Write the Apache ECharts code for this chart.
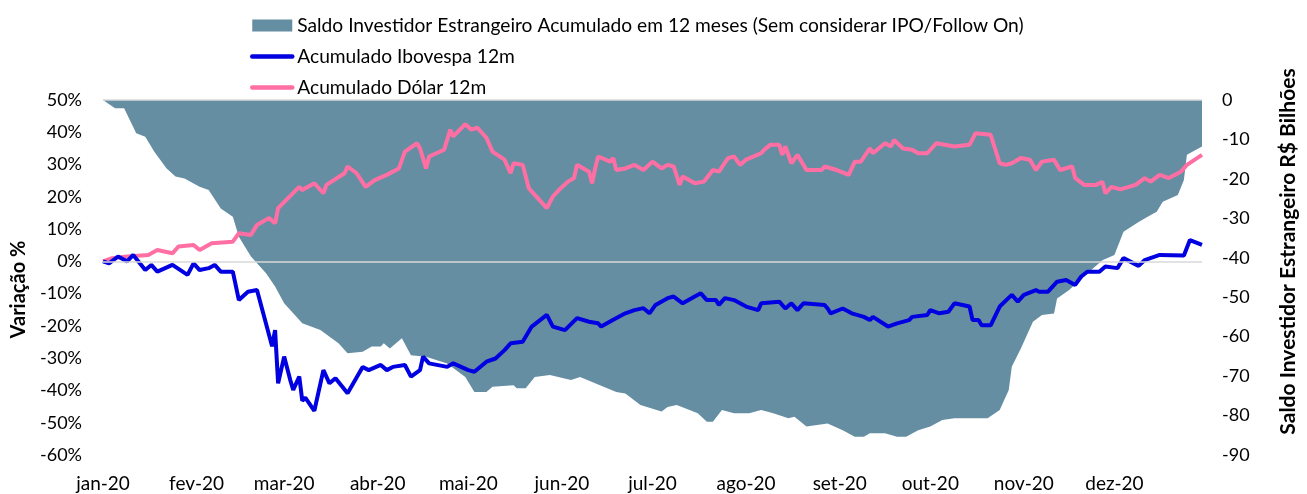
<!DOCTYPE html>
<html>
<head>
<meta charset="utf-8">
<script src="https://cdn.jsdelivr.net/npm/echarts@6/dist/echarts.min.js"></script>
<style>
  html, body { margin: 0; padding: 0; background: #fff; }
  #chart { width: 1307px; height: 494px; }
</style>
</head>
<body>
<div id="chart"></div>
<script>
// eixo x: dias corridos de 2020 (0 = 1 jan)
const mesInicio = [0, 31, 60, 91, 121, 152, 182, 213, 244, 274, 305, 335];
const mesRotulos = ['jan-20', 'fev-20', 'mar-20', 'abr-20', 'mai-20', 'jun-20',
  'jul-20', 'ago-20', 'set-20', 'out-20', 'nov-20', 'dez-20'];

// Saldo investidor estrangeiro acumulado 12m (R$ bilhões, eixo direito)
const saldoDias = [0, 4, 7, 11, 14, 17, 21, 24, 27, 32, 35, 39, 43, 45, 49, 54, 57, 60, 66, 72,
  78, 81, 86, 89, 92, 93, 95, 99, 102, 107, 114, 120, 123, 127, 129, 136, 137, 140, 143, 148,
  155, 158, 163, 170, 173, 178, 185, 187, 190, 193, 197, 200, 202, 205, 209, 214, 218, 222, 227, 229,
  233, 240, 245, 249, 252, 254, 259, 263, 266, 270, 274, 278, 282, 287, 293, 297, 300, 301, 304, 308,
  311, 315, 316, 320, 326, 331, 335, 338, 343, 346, 349, 351, 356, 358, 359, 364];
const saldoValores = [0, -2.1, -2.1, -8.4, -9.3, -13.1, -17.3, -19.4, -19.9, -22, -22.8, -27.5, -29.6, -34.7, -39.7, -43.9, -47.3, -51.5, -56.6, -58.3,
  -61.7, -64.2, -63.8, -62.5, -62.5, -61.7, -63, -60.4, -64.7, -65.1, -66.8, -70.2, -74, -74, -72.7, -72.3, -73.1, -73.1, -70.2, -69.7,
  -71, -70.2, -71.8, -74, -74.4, -77.3, -79, -77.8, -77.3, -78.2, -79.4, -81.6, -81.6, -78.6, -79.4, -79.4, -78.6, -79.4, -80.7, -80.3,
  -82.8, -82, -83.7, -85.4, -85.4, -84.5, -84.5, -85.4, -85.4, -83.7, -82.8, -81.1, -80.7, -80.7, -80.7, -78.6, -73.5, -67.6, -63, -56.2,
  -54.5, -54.1, -50.3, -48.2, -44, -40.6, -39.3, -33.4, -30.9, -29.6, -28.3, -25.8, -24.1, -20.3, -13.9, -11.8];

// Acumulado Ibovespa 12m (%)
const iboDias = [0, 2, 5, 8, 10, 14, 16, 18, 23, 28, 30, 32, 35, 37, 39, 43, 45, 48, 51, 56,
  57, 58, 60, 62, 63, 65, 66, 67, 70, 73, 75, 77, 81, 86, 88, 92, 94, 96, 100, 102,
  105, 106, 108, 114, 116, 121, 123, 127, 130, 133, 135, 139, 142, 147, 149, 153, 157, 161, 164, 165,
  169, 173, 176, 179, 181, 183, 187, 189, 192, 196, 198, 200, 203, 204, 206, 209, 213, 217, 218, 224,
  226, 228, 230, 232, 239, 240, 241, 245, 248, 252, 254, 255, 260, 263, 267, 268, 273, 274, 277, 280,
  282, 287, 288, 290, 291, 294, 297, 301, 303, 305, 309, 310, 313, 316, 319, 322, 324, 326, 330, 332,
  336, 338, 343, 345, 350, 358, 360, 364];
const iboValores = [0, -0.6, 1.5, 0, 2, -2.7, -1.1, -3.2, -1.1, -4.2, -0.6, -2.7, -2.1, -1.1, -3.2, -3.2, -12, -9.4, -8.9, -26.3,
  -21.3, -37.8, -29.5, -36.7, -39.8, -35.7, -43.2, -42.2, -46.3, -33.7, -37.8, -36.2, -40.9, -32.7, -33.7, -32.1, -33.7, -32.7, -32.1, -35.7,
  -33.7, -29.5, -31.6, -32.7, -31.6, -33.7, -34.2, -31.1, -30.1, -27.5, -25.4, -24.9, -20.2, -16.6, -20.2, -21.3, -17.6, -18.7, -19.2, -20.2,
  -18.1, -16.1, -15.1, -14.5, -16.1, -13.5, -11.4, -10.9, -13, -10.9, -9.9, -12, -12, -13.5, -11.4, -12, -14, -15.1, -13, -12.5,
  -14.6, -13, -15.1, -13, -13.5, -14.6, -16.1, -14.6, -16.1, -17.2, -18.2, -17.2, -20.2, -19.2, -18.2, -17.2, -16.6, -15.1, -16.1, -15.6,
  -13, -14, -18.2, -18.2, -19.8, -19.8, -14, -10.4, -12.5, -10.4, -8.9, -9.4, -9.4, -6.3, -5.8, -7.3, -4.7, -3.2, -3.2, -1.6,
  -2.1, 1, -1.4, 0.4, 2, 1.8, 6.6, 5.1];

// Acumulado Dólar 12m (%)
const dolarDias = [0, 3, 8, 15, 18, 23, 25, 30, 32, 36, 43, 45, 49, 51, 55, 57, 58, 65, 66, 70,
  73, 74, 80, 81, 84, 87, 90, 94, 98, 100, 104, 105, 107, 108, 113, 115, 116, 120, 122, 124,
  127, 129, 133, 135, 136, 139, 141, 143, 147, 149, 151, 154, 156, 157, 161, 162, 163, 164, 168, 169,
  170, 173, 176, 179, 182, 185, 187, 189, 191, 192, 196, 199, 202, 204, 207, 209, 211, 213, 218, 219,
  221, 224, 225, 226, 228, 230, 233, 238, 239, 243, 247, 249, 251, 254, 255, 259, 261, 262, 265, 268,
  270, 273, 276, 282, 287, 289, 294, 297, 299, 301, 304, 307, 309, 311, 315, 317, 321, 322, 325, 329,
  331, 332, 334, 337, 342, 345, 347, 350, 353, 357, 359, 364];
const dolarValores = [0, 1, 1.5, 2, 3.5, 2.5, 4.6, 5.1, 3.5, 5.6, 6.1, 8.7, 8.2, 11.3, 13.4, 11.8, 16.5, 23.1, 22.1, 24.2,
  21.1, 23.7, 27.3, 29.4, 27.3, 23.1, 25.2, 26.8, 28.8, 34, 36.6, 35, 28.8, 32.5, 34.6, 40.8, 38.7, 42.5, 40.8, 41.4,
  38.3, 34, 31.5, 27.3, 30.4, 29.9, 22.7, 20.6, 16.5, 20.1, 22.1, 24.7, 25.8, 29.9, 27.8, 24.2, 28.8, 32.5, 30.9, 32,
  28.3, 28.8, 29.9, 28.3, 30.9, 28.8, 29.9, 29.4, 23.7, 26.3, 24.2, 24.7, 28.3, 27.8, 32, 32.5, 29.9, 31.5, 33.5, 34.6,
  36.1, 36.1, 33, 35.6, 30.4, 33, 28.3, 28.3, 29.4, 28.3, 26.8, 30.9, 30.9, 35, 33.5, 36.6, 35.6, 37.6, 35, 34.6,
  33.5, 33.5, 36.6, 35.6, 36.1, 39.7, 39.2, 30.4, 29.9, 30.4, 32, 31.5, 28.3, 30.9, 31.5, 28.3, 29.4, 25.8, 23.7, 23.7,
  24.7, 21.1, 23.1, 22.3, 23.7, 25.8, 24.7, 26.8, 25.8, 27.8, 29.9, 33];

const juntar = (dias, valores) => dias.map((d, i) => [d, valores[i]]);

const fonte = 'Lato';
const chart = echarts.init(document.getElementById('chart'));

const linhaZero = {
  silent: true,
  symbol: 'none',
  label: { show: false },
  lineStyle: { color: '#d9d9d9', width: 1.5, type: 'solid' },
  data: [{ yAxis: 0 }]
};

const option = {
  animation: false,
  textStyle: { fontFamily: fonte },
  grid: { left: 103, right: 103, top: 100, bottom: 39 },
  legend: {
    orient: 'vertical',
    left: 245,
    top: 10,
    itemWidth: 40,
    itemHeight: 12,
    itemGap: 10,
    textStyle: { fontFamily: fonte, fontSize: 19.2, lineHeight: 21, color: '#000' },
    data: [
      { name: 'Saldo Investidor Estrangeiro Acumulado em 12 meses (Sem considerar IPO/Follow On)', icon: 'rect' },
      { name: 'Acumulado Ibovespa 12m', itemStyle: { opacity: 0 }, lineStyle: { width: 4.5, cap: 'round' } },
      { name: 'Acumulado Dólar 12m', itemStyle: { opacity: 0 }, lineStyle: { width: 4.5, cap: 'round' } }
    ]
  },
  xAxis: {
    type: 'value',
    min: 0,
    max: 364,
    splitLine: { show: false },
    axisLine: { show: false },
    axisTick: { show: false },
    axisLabel: {
      customValues: mesInicio,
      margin: 19,
      fontSize: 19,
      color: '#000',
      formatter: (v) => mesRotulos[mesInicio.indexOf(v)]
    }
  },
  yAxis: [
    {
      type: 'value',
      min: -60,
      max: 50,
      interval: 10,
      name: 'Variação %',
      nameLocation: 'middle',
      nameGap: 74,
      nameTextStyle: { fontFamily: fonte, fontSize: 20, fontWeight: 'bold', color: '#000', padding: [0, 24, 0, 0] },
      splitLine: { show: false },
      axisLine: { show: false },
      axisTick: { show: false },
      axisLabel: { margin: 21, fontSize: 18, color: '#000', formatter: '{value}%' }
    },
    {
      type: 'value',
      min: -90,
      max: 0,
      interval: 10,
      position: 'right',
      name: 'Saldo Investidor Estrangeiro R$ Bilhões',
      nameLocation: 'middle',
      nameGap: 76,
      nameTextStyle: { fontFamily: fonte, fontSize: 21, fontWeight: 'bold', color: '#000', padding: [0, 0, 0, 52] },
      splitLine: { show: false },
      axisLine: { show: false },
      axisTick: { show: false },
      axisLabel: { margin: 20, fontSize: 18, color: '#000' }
    }
  ],
  series: [
    {
      name: 'Saldo Investidor Estrangeiro Acumulado em 12 meses (Sem considerar IPO/Follow On)',
      type: 'line',
      yAxisIndex: 1,
      symbol: 'none',
      lineStyle: { width: 0 },
      itemStyle: { color: '#668ea3' },
      areaStyle: { color: '#668ea3', opacity: 1, origin: 'end' },
      data: juntar(saldoDias, saldoValores),
      markLine: linhaZero
    },
    {
      name: 'Acumulado Dólar 12m',
      type: 'line',
      symbol: 'none',
      itemStyle: { color: '#ff6fa3' },
      lineStyle: { color: '#ff6fa3', width: 4 },
      data: juntar(dolarDias, dolarValores),
      markLine: linhaZero
    },
    {
      name: 'Acumulado Ibovespa 12m',
      type: 'line',
      symbol: 'none',
      itemStyle: { color: '#0000e0' },
      lineStyle: { color: '#0000e0', width: 4 },
      data: juntar(iboDias, iboValores)
    }
  ]
};

chart.setOption(option);
</script>
</body>
</html>
